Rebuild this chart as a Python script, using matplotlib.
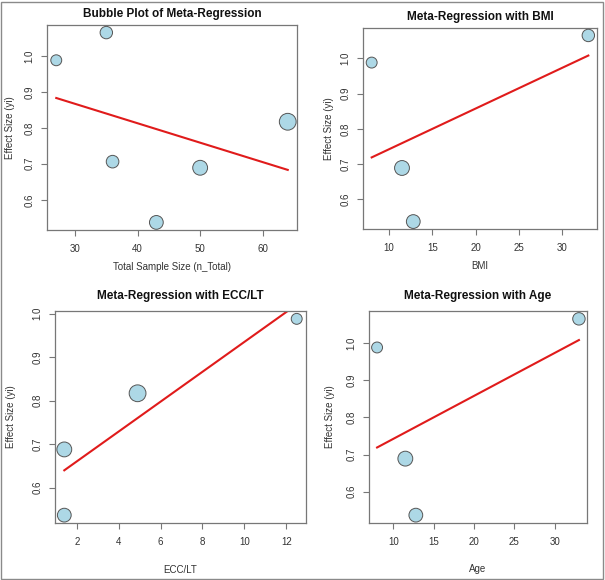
import numpy as np
import matplotlib
matplotlib.use("Agg")
import matplotlib.pyplot as plt
from matplotlib.patches import Rectangle
from matplotlib.ticker import FormatStrFormatter

plt.rcParams['font.family'] = ['Liberation Sans', 'DejaVu Sans']

# study data
n_total = [27, 35, 36, 43, 50, 64]
effect_all = [0.988, 1.065, 0.706, 0.537, 0.689, 0.817]

bmi = [8.0, 11.5, 12.8, 33.0]
bmi_effect = [0.988, 0.689, 0.537, 1.065]
bmi_n = [27, 50, 43, 35]

ecc_lt = [1.4, 1.4, 4.9, 12.5]
ecc_effect = [0.688, 0.537, 0.817, 0.988]
ecc_n = [50, 43, 64, 27]

age = [8.0, 11.5, 12.8, 33.0]
age_effect = [0.988, 0.689, 0.537, 1.065]
age_n = [27, 50, 43, 35]

# fitted lines (intercept, slope)
fit_n = (1.029, -0.005405)
fit_bmi = (0.6265, 0.01156)
fit_ecc = (0.592, 0.0343)
fit_age = (0.6265, 0.01156)

W, H = 605, 580
fig = plt.figure(figsize=(W / 100, H / 100), dpi=100)
fig.patches.append(Rectangle((1 / W, 1 / H), 1 - 3 / W, 1 - 3 / H, transform=fig.transFigure,
                             fill=False, edgecolor='#8a8a8a', lw=1.0))


def panel(box, x, y, n, fit, title, xlabel, xticks, tpad, xpad, ypad):
    x0, y0, x1, y1 = box
    ax = fig.add_axes([x0 / W, 1 - y1 / H, (x1 - x0) / W, (y1 - y0) / H])
    x = np.asarray(x, float)
    y = np.asarray(y, float)
    d = 2.1 * np.sqrt(np.asarray(n, float))  # bubble diameter in px
    ax.scatter(x, y, s=(d * 0.72) ** 2, facecolor='#add8e6', edgecolor='#555555',
               linewidths=0.7, zorder=3)
    xl = np.array([x.min(), x.max()])
    ax.plot(xl, fit[0] + fit[1] * xl, color='#e01b1b', lw=1.5, zorder=2)
    # R style 4% padding
    xr = x.max() - x.min()
    yr = y.max() - y.min()
    ax.set_xlim(x.min() - 0.04 * xr, x.max() + 0.04 * xr)
    ax.set_ylim(y.min() - 0.04 * yr, y.max() + 0.04 * yr)
    ax.set_xticks(xticks)
    ax.set_yticks([0.6, 0.7, 0.8, 0.9, 1.0])
    ax.yaxis.set_major_formatter(FormatStrFormatter('%.1f'))
    ax.tick_params(length=4, width=0.8, color='#777777', labelsize=7, labelcolor='#333333', pad=6)
    ax.tick_params(axis='y', pad=5)
    for lab in ax.get_yticklabels():
        lab.set_rotation(90)
        lab.set_va('center')
    for s in ax.spines.values():
        s.set_color('#777777')
        s.set_linewidth(0.9)
    ax.set_title(title, fontsize=8.5, fontweight='bold', color='#111111', pad=tpad)
    ax.set_xlabel(xlabel, fontsize=7, color='#333333', labelpad=xpad)
    ax.set_ylabel('Effect Size (yi)', fontsize=7, color='#333333', labelpad=ypad)
    return ax


panel((47, 25, 297, 230), n_total, effect_all, n_total, fit_n, 'Bubble Plot of Meta-Regression',
      'Total Sample Size (n_Total)', [30, 40, 50, 60], 5.5, 5.5, 6.5)
panel((363, 28, 597, 229), bmi, bmi_effect, bmi_n, fit_bmi, 'Meta-Regression with BMI',
      'BMI', [10, 15, 20, 25, 30], 5.5, 5.5, 5)
panel((55, 311, 306, 523), ecc_lt, ecc_effect, ecc_n, fit_ecc, 'Meta-Regression with ECC/LT',
      'ECC/LT', [2, 4, 6, 8, 10, 12], 9, 13, 12)
panel((369, 311, 587, 523), age, age_effect, age_n, fit_age, 'Meta-Regression with Age',
      'Age', [10, 15, 20, 25, 30], 9, 12.5, 8.5)

fig.savefig('out.png', dpi=100)
